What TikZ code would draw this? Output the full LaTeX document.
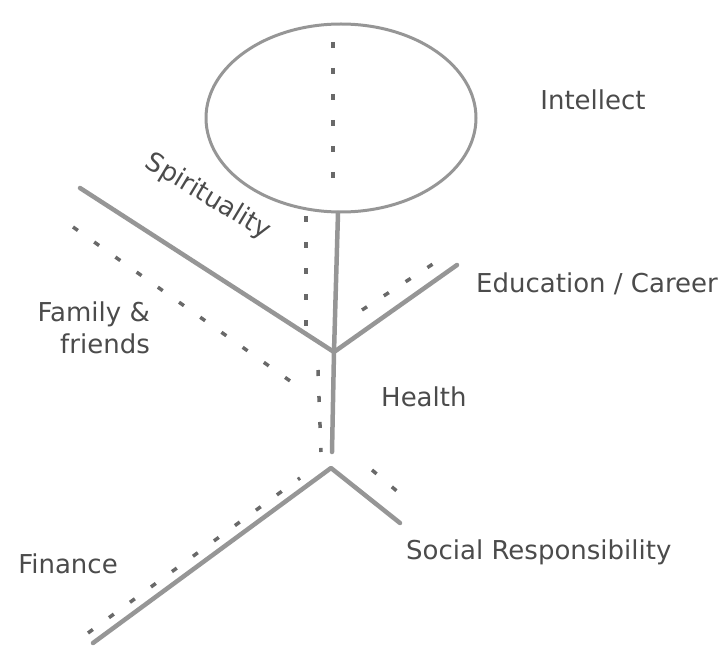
\documentclass[tikz,border=0pt]{standalone}
\usepackage{fontspec}
\setmainfont{DejaVu Sans}
\usetikzlibrary{shapes.geometric}
\definecolor{limb}{RGB}{150,150,150}
\definecolor{dashc}{RGB}{105,105,105}
\definecolor{txt}{RGB}{75,75,75}
\begin{document}
\begin{tikzpicture}[x=1pt,y=-1pt,
  limbline/.style={draw=limb,line width=4.5pt,line cap=round,line join=round},
  dotline/.style={draw=dashc,line width=3.5pt,dash pattern=on 6pt off 20pt},
  lbl/.style={text=txt,font=\fontsize{26}{32}\selectfont,inner sep=0pt}]
\useasboundingbox (0,0) rectangle (720,655);
% head
\node[ellipse,draw=limb,line width=3pt,minimum width=270pt,minimum height=188pt,inner sep=0pt] (head) at (341,118) {};
% skeleton coordinates
\coordinate (neck) at (338,213);
\coordinate (J) at (334,352);
\coordinate (B) at (332,452);
\coordinate (S1) at (80,188);
\coordinate (E1) at (457,265);
\coordinate (V) at (331,468);
\coordinate (F1) at (93,643);
\coordinate (R1) at (400,523);
% dashed guides
\coordinate (h1) at (333,42);  \coordinate (h2) at (333,195);
\coordinate (v1) at (306,216); \coordinate (v2) at (306,345);
\coordinate (w1) at (318,370); \coordinate (w2) at (321,452);
\coordinate (f1) at (73,227);  \coordinate (f2) at (300,388);
\coordinate (e1) at (362,310); \coordinate (e2) at (436,262);
\coordinate (g1) at (88,633);  \coordinate (g2) at (300,478);
\coordinate (s1) at (372,470); \coordinate (s2) at (405,498);
% solid limbs
\draw[limbline] (neck) -- (J) -- (B);
\draw[limbline] (S1) -- (J) -- (E1);
\draw[limbline] (F1) -- (V) -- (R1);
% dashed lines
\draw[dotline] (h1) -- (h2);
\draw[dotline] (v1) -- (v2);
\draw[dotline] (w1) -- (w2);
\draw[dotline] (f1) -- (f2);
\draw[dotline] (e1) -- (e2);
\draw[dotline] (g1) -- (g2);
\draw[dotline] (s1) -- (s2);
% labels
\node[lbl] (intellect) at (593,100) {Intellect};
\node[lbl,rotate=-31] (spirit) at (208,197) {Spirituality};
\node[lbl,anchor=west] (edu) at (476,284) {Education / Career};
\node[lbl,anchor=east,align=right] (family) at (150,328) {Family \&\\friends};
\node[lbl,anchor=west] (health) at (381,397) {Health};
\node[lbl] (finance) at (68,564) {Finance};
\node[lbl,anchor=west] (social) at (406,552) {Social Responsibility};
\end{tikzpicture}
\end{document}
